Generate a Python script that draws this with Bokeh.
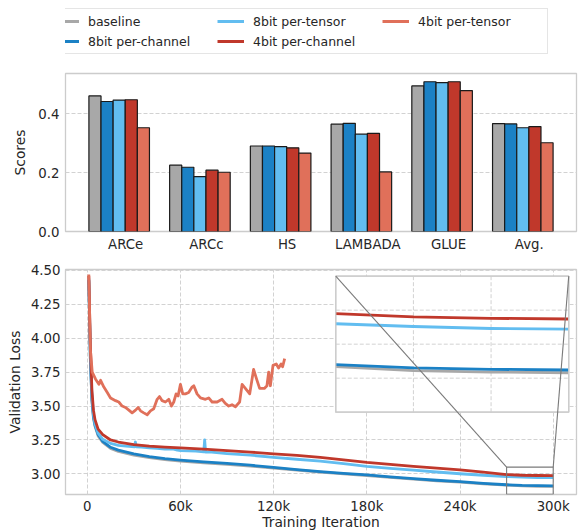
import numpy as np
from bokeh.plotting import figure
from bokeh.layouts import column
from bokeh.models import (FixedTicker, Legend, LegendItem, Range1d, NumeralTickFormatter)
from bokeh.embed import file_html
from bokeh.resources import INLINE

FONT = "DejaVu Sans"
TXT = "#262626"
GRID = "#d2d2d2"
SPINE = "#cccccc"

# ---------------- data ----------------
series_names = ["baseline", "8bit per-channel", "8bit per-tensor", "4bit per-channel", "4bit per-tensor"]
series_colors = ["#a8a8a8", "#1b81c5", "#62bdf0", "#c0382b", "#e0705a"]

tasks = ["ARCe", "ARCc", "HS", "LAMBADA", "GLUE", "Avg."]
score_baseline = [0.460, 0.225, 0.290, 0.364, 0.494, 0.366]
score_8bit_channel = [0.441, 0.218, 0.290, 0.367, 0.508, 0.365]
score_8bit_tensor = [0.446, 0.186, 0.288, 0.330, 0.505, 0.352]
score_4bit_channel = [0.447, 0.208, 0.284, 0.333, 0.508, 0.356]
score_4bit_tensor = [0.352, 0.201, 0.266, 0.202, 0.478, 0.301]
score_ticks = [0.0, 0.2, 0.4]

iter_common = [1000, 2000, 3000, 4000, 5000, 7000, 10000, 15000, 20000, 30000, 40000, 50000,
               60000, 75000, 90000, 105000, 120000, 135000, 150000, 165000, 180000, 195000,
               210000, 225000, 240000, 255000, 270000, 280000, 290000, 300000]
loss_baseline = [4.42, 3.84, 3.54, 3.41, 3.35, 3.28, 3.232, 3.188, 3.166, 3.138, 3.120, 3.106,
                 3.095, 3.082, 3.070, 3.058, 3.043, 3.027, 3.013, 3.000, 2.988, 2.974,
                 2.961, 2.949, 2.939, 2.927, 2.917, 2.911, 2.909, 2.908]
loss_8bit_channel = [4.43, 3.85, 3.55, 3.42, 3.36, 3.29, 3.240, 3.196, 3.175, 3.147, 3.128, 3.113,
                     3.102, 3.089, 3.077, 3.064, 3.048, 3.031, 3.017, 3.004, 2.992, 2.978,
                     2.965, 2.953, 2.943, 2.930, 2.920, 2.915, 2.913, 2.912]
loss_4bit_channel = [4.46, 3.95, 3.62, 3.47, 3.40, 3.33, 3.29, 3.250, 3.235, 3.215, 3.205, 3.198,
                     3.192, 3.183, 3.172, 3.161, 3.148, 3.137, 3.122, 3.104, 3.085, 3.070,
                     3.055, 3.042, 3.030, 3.013, 2.995, 2.990, 2.988, 2.987]

iter_8bit_tensor = [1000, 2000, 3000, 4000, 5000, 7000, 10000, 15000, 20000, 25000,
                    30500, 31000, 31500, 35000, 40000, 45000, 50000, 55000, 58000, 60000,
                    65000, 70000, 75000, 75600, 76200, 80000, 90000, 105000, 120000, 135000,
                    150000, 165000, 180000, 195000, 210000, 225000, 240000, 255000, 270000, 280000,
                    290000, 300000]
loss_8bit_tensor = [4.44, 3.90, 3.58, 3.44, 3.37, 3.30, 3.255, 3.225, 3.210, 3.205,
                    3.200, 3.235, 3.200, 3.198, 3.192, 3.188, 3.182, 3.185, 3.175, 3.172,
                    3.170, 3.168, 3.163, 3.250, 3.160, 3.160, 3.150, 3.138, 3.122, 3.108,
                    3.094, 3.075, 3.056, 3.041, 3.027, 3.014, 3.001, 2.990, 2.980, 2.976,
                    2.973, 2.972]

iter_4bit_tensor = [1000, 1500, 2000, 3200, 5300, 7500, 8600, 10700, 12900, 15000, 18200, 20300,
                    22500, 24600, 26800, 28900, 31100, 32800, 34300, 36400, 38600, 40700, 42800,
                    45000, 46500, 48200, 50300, 52500, 54200, 55700, 57200, 58500, 60000, 61500,
                    63200, 65300, 67500, 68600, 70700, 72900, 76100, 78200, 80400, 83600, 86800,
                    88900, 91100, 93200, 95400, 98100, 99700, 101800, 104600, 107100, 109300,
                    111000, 114000, 115700, 116800, 117900, 119600, 121700, 123200, 124800,
                    125800, 127100]
loss_4bit_tensor = [4.47, 4.20, 3.92, 3.75, 3.70, 3.66, 3.69, 3.64, 3.60, 3.56, 3.54, 3.53,
                    3.50, 3.49, 3.47, 3.45, 3.47, 3.49, 3.465, 3.45, 3.436, 3.465, 3.48,
                    3.55, 3.57, 3.54, 3.53, 3.55, 3.50, 3.53, 3.59, 3.575, 3.66, 3.59,
                    3.59, 3.60, 3.64, 3.65, 3.59, 3.56, 3.55, 3.56, 3.53, 3.53, 3.55,
                    3.52, 3.50, 3.51, 3.495, 3.53, 3.66, 3.63, 3.59, 3.77, 3.69,
                    3.63, 3.63, 3.65, 3.75, 3.65, 3.80, 3.81, 3.78, 3.81,
                    3.79, 3.85]

iter_ticks = [0, 60000, 120000, 180000, 240000, 300000]
iter_tick_labels = ["0", "60k", "120k", "180k", "240k", "300k"]
loss_ticks = [3.00, 3.25, 3.50, 3.75, 4.00, 4.25, 4.50]

# inset (zoom) settings
inset_xlim = [270000, 300000]
inset_ylim = [2.85, 3.05]
inset_xgrid = [280000, 290000]
inset_ygrid = [2.90, 2.95, 3.00]
inset_box = [160000, 310000, 3.455, 4.458]   # placement of the inset in main-axis units

scores = [score_baseline, score_8bit_channel, score_8bit_tensor, score_4bit_channel, score_4bit_tensor]
curves = [(iter_common, loss_baseline), (iter_common, loss_8bit_channel),
          (iter_8bit_tensor, loss_8bit_tensor), (iter_common, loss_4bit_channel),
          (iter_4bit_tensor, loss_4bit_tensor)]


def style(p):
    p.background_fill_color = "white"
    p.border_fill_color = "white"
    p.outline_line_color = SPINE
    p.outline_line_width = 1.3
    for ax in p.axis:
        ax.axis_line_color = None
        ax.major_tick_line_color = None
        ax.minor_tick_line_color = None
        ax.major_tick_out = 0
        ax.major_tick_in = 0
        ax.minor_tick_out = 0
        ax.minor_tick_in = 0
        ax.major_label_text_font = FONT
        ax.major_label_text_font_size = "13.3px"
        ax.major_label_text_color = TXT
        ax.axis_label_text_font = FONT
        ax.axis_label_text_font_size = "13.8px"
        ax.axis_label_text_font_style = "normal"
        ax.axis_label_text_color = TXT
    for g in p.grid:
        g.grid_line_color = GRID
        g.grid_line_dash = "4 2"
        g.grid_line_width = 1


# ---------------- legend strip ----------------
p0 = figure(width=580, height=60, x_range=Range1d(0, 1), y_range=Range1d(0, 1),
            output_backend="svg", toolbar_location=None,
            min_border=0, min_border_left=0, min_border_right=0, min_border_top=0, min_border_bottom=0,
            x_axis_location=None, y_axis_location=None)
p0.outline_line_color = None
p0.grid.visible = False
p0.background_fill_color = "white"
p0.border_fill_color = "white"
items = []
for (xs, ys), name, col in zip(curves, series_names, series_colors):
    # real data lies far outside this strip's ranges, so only the legend handle is visible
    r = p0.line(x=xs, y=ys, line_color=col, line_width=3)
    items.append(LegendItem(label=name, renderers=[r]))
legend = Legend(items=items, ncols=3, location=(-18, 6),
                label_text_font=FONT, label_text_font_size="12.5px", label_text_color=TXT,
                glyph_width=27, glyph_height=16, label_height=16, label_width=125,
                label_standoff=9, spacing=4, padding=4, margin=0,
                border_line_color=SPINE, border_line_width=1, background_fill_alpha=1)
p0.add_layout(legend, "center")

# ---------------- bar chart ----------------
bar_w = 0.15
p1 = figure(width=580, height=196, x_range=Range1d(-0.665, 5.665), y_range=Range1d(0, 0.536),
            output_backend="svg", toolbar_location=None,
            min_border_left=65, min_border_right=4, min_border_top=13, min_border_bottom=25)
idx = np.arange(len(tasks))
for k, (vals, col) in enumerate(zip(scores, series_colors)):
    p1.vbar(x=idx + (k - 2) * bar_w, top=vals, width=bar_w, fill_color=col,
            line_color="#1a1a1a", line_width=1.2)
tick_pos = [float(i + 0.08) for i in idx]
p1.xaxis.ticker = FixedTicker(ticks=tick_pos)
p1.xaxis.major_label_overrides = {t: name for t, name in zip(tick_pos, tasks)}
p1.yaxis.ticker = FixedTicker(ticks=score_ticks)
p1.yaxis.formatter = NumeralTickFormatter(format="0.0")
p1.yaxis.axis_label = "Scores"
style(p1)
p1.xgrid.visible = False
p1.xaxis.major_label_standoff = 5
p1.yaxis.major_label_standoff = 6
p1.yaxis.axis_label_standoff = 7

# ---------------- loss curves ----------------
xr = (-14000, 315000)
yr = (2.848, 4.507)
p2 = figure(width=580, height=276, x_range=Range1d(*xr), y_range=Range1d(*yr),
            output_backend="svg", toolbar_location=None,
            min_border_left=65, min_border_right=4, min_border_top=13, min_border_bottom=38)
for (xs, ys), col in zip(curves, series_colors):
    p2.line(x=xs, y=ys, line_color=col, line_width=2.8, line_join="round")

p2.xaxis.ticker = FixedTicker(ticks=iter_ticks)
p2.xaxis.major_label_overrides = {t: s for t, s in zip(iter_ticks, iter_tick_labels)}
p2.yaxis.ticker = FixedTicker(ticks=loss_ticks)
p2.yaxis.formatter = NumeralTickFormatter(format="0.00")
p2.xaxis.axis_label = "Training Iteration"
p2.yaxis.axis_label = "Validation Loss"
style(p2)
p2.xaxis.major_label_standoff = 4
p2.xaxis.axis_label_standoff = -3
p2.yaxis.major_label_standoff = 5
p2.yaxis.axis_label_standoff = 5

# inset ranges: map inset limits onto inset_box inside the main frame
bl, br, bb, bt = inset_box
sx = (inset_xlim[1] - inset_xlim[0]) / (br - bl)
sy = (inset_ylim[1] - inset_ylim[0]) / (bt - bb)
p2.extra_x_ranges = {"inset": Range1d(inset_xlim[0] + (xr[0] - bl) * sx, inset_xlim[1] + (xr[1] - br) * sx)}
p2.extra_y_ranges = {"inset": Range1d(inset_ylim[0] + (yr[0] - bb) * sy, inset_ylim[1] + (yr[1] - bt) * sy)}
IN = dict(x_range_name="inset", y_range_name="inset")

p2.quad(left=inset_xlim[0], right=inset_xlim[1], bottom=inset_ylim[0], top=inset_ylim[1],
        fill_color="white", line_color=SPINE, line_width=1.3, **IN)
p2.segment(x0=inset_xgrid, x1=inset_xgrid, y0=[inset_ylim[0]] * len(inset_xgrid),
           y1=[inset_ylim[1]] * len(inset_xgrid), line_color=GRID, line_dash="4 2", line_width=1, **IN)
p2.segment(x0=[inset_xlim[0]] * len(inset_ygrid), x1=[inset_xlim[1]] * len(inset_ygrid),
           y0=inset_ygrid, y1=inset_ygrid, line_color=GRID, line_dash="4 2", line_width=1, **IN)
for (xs, ys), col in zip(curves, series_colors):
    xs_a = np.asarray(xs, dtype=float)
    ys_a = np.asarray(ys, dtype=float)
    m = (xs_a >= inset_xlim[0]) & (xs_a <= inset_xlim[1])
    if m.sum() >= 2:
        p2.line(x=xs_a[m], y=ys_a[m], line_color=col, line_width=2.8, line_join="round", **IN)
# redraw inset border on top
p2.quad(left=inset_xlim[0], right=inset_xlim[1], bottom=inset_ylim[0], top=inset_ylim[1],
        fill_color=None, line_color=SPINE, line_width=1.3, **IN)

# zoom rectangle and connectors (main-axis units)
p2.quad(left=inset_xlim[0], right=inset_xlim[1], bottom=inset_ylim[0], top=inset_ylim[1],
        fill_color=None, line_color="#7a7a7a", line_width=1.1)
p2.segment(x0=[inset_xlim[0], inset_xlim[1]], y0=[inset_ylim[1], inset_ylim[1]],
           x1=[bl, br], y1=[bt, bt], line_color="#7a7a7a", line_width=1.1)

layout = column(p0, p1, p2)
open("out.html", "w").write(file_html(layout, INLINE))
